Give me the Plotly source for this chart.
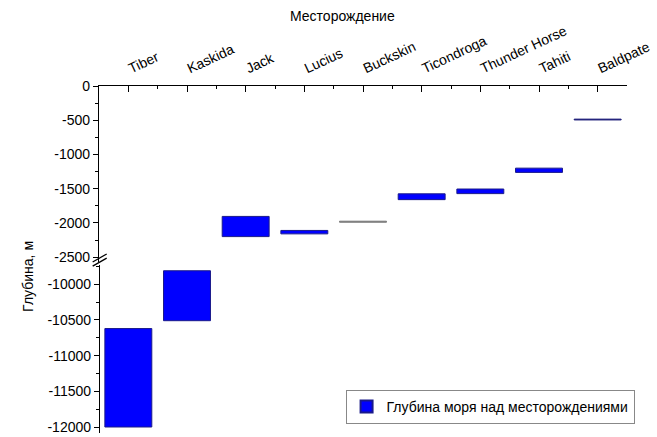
import plotly.graph_objects as go

fields = ["Tiber", "Kaskida", "Jack", "Lucius", "Buckskin", "Ticondroga",
          "Thunder Horse", "Tahiti", "Baldpate"]
depth_top = [-10620, -9810, -1905, -2110, -1975, -1575, -1505, -1200, -484]
depth_bottom = [-12000, -10510, -2200, -2160, -1990, -1660, -1572, -1262, -496]
bar_colors = ["#0000FF", "#0000FF", "#0000FF", "#0000FF", "#7a7a7a",
              "#0000FF", "#0000FF", "#0000FF", "#1c1c78"]
edge_colors = ["#1a1a8a", "#1a1a8a", "#1a1a8a", "#1a1a8a", "#7a7a7a",
               "#1a1a8a", "#1a1a8a", "#1a1a8a", "#1c1c78"]

top_ticks = [0, -500, -1000, -1500, -2000, -2500]
bottom_ticks = [-10000, -10500, -11000, -11500, -12000]

FONT = "Liberation Sans, Arial, sans-serif"
fs = 14

x_idx = list(range(len(fields)))
low = [i for i in x_idx if depth_top[i] < -5000]
high = [i for i in x_idx if depth_top[i] >= -5000]

fig = go.Figure()
fig.add_trace(go.Bar(
    x=[i for i in low],
    y=[depth_top[i] - depth_bottom[i] for i in low],
    base=[depth_bottom[i] for i in low],
    width=0.8,
    marker=dict(color=[bar_colors[i] for i in low],
                line=dict(color=[edge_colors[i] for i in low], width=1)),
    name="Глубина моря над месторождениями",
    xaxis="x", yaxis="y2", showlegend=True,
))
fig.add_trace(go.Bar(
    x=[i for i in high],
    y=[depth_top[i] - depth_bottom[i] for i in high],
    base=[depth_bottom[i] for i in high],
    width=0.8,
    marker=dict(color=[bar_colors[i] for i in high],
                line=dict(color=[edge_colors[i] for i in high], width=1)),
    name="Глубина моря над месторождениями",
    xaxis="x", yaxis="y", showlegend=False,
))

axis_common = dict(showline=True, linecolor="black", linewidth=1.3,
                   showgrid=False, zeroline=False, automargin=False,
                   tickfont=dict(family=FONT, size=fs, color="black"))

fig.update_layout(
    width=657, height=437,
    margin=dict(l=99, r=30, t=86, b=4, autoexpand=False),
    plot_bgcolor="white", paper_bgcolor="white",
    font=dict(family=FONT, size=fs, color="black"),
    barmode="overlay",
    xaxis=dict(
        **axis_common,
        anchor="y", side="top",
        range=[-0.5, 8.5],
        tickmode="array", tickvals=x_idx, ticktext=fields,
        tickangle=-25, ticklabelstandoff=5,
        ticks="inside", ticklen=6, tickwidth=1.3, tickcolor="black",
        minor=dict(tickmode="array", tickvals=[i + 0.5 for i in x_idx],
                   ticks="inside", ticklen=3, tickcolor="black", tickwidth=1.3),
        mirror=False,
    ),
    yaxis=dict(
        **axis_common,
        domain=[0.493, 1.0],
        anchor="x",
        range=[-2570, 0],
        tickmode="array", tickvals=top_ticks,
        ticktext=[str(v) for v in top_ticks],
        ticks="outside", ticklen=5, tickwidth=1.3, tickcolor="black",
        minor=dict(tickmode="array",
                   tickvals=[-250, -750, -1250, -1750, -2250],
                   ticks="outside", ticklen=3, tickcolor="black", tickwidth=1.3),
    ),
    yaxis2=dict(
        **axis_common,
        domain=[0.0, 0.484],
        anchor="free", position=0,
        range=[-12084, -9730],
        tickmode="array", tickvals=bottom_ticks,
        ticktext=[str(v) for v in bottom_ticks],
        ticks="outside", ticklen=5, tickwidth=1.3, tickcolor="black",
        minor=dict(tickmode="array",
                   tickvals=[-9750, -10250, -10750, -11250, -11750],
                   ticks="outside", ticklen=3, tickcolor="black", tickwidth=1.3),
    ),
    legend=dict(
        x=0.467, y=0.075, xanchor="left", yanchor="middle",
        bgcolor="white", bordercolor="#888888", borderwidth=1,
        font=dict(family=FONT, size=fs, color="black"),
        itemsizing="constant",
    ),
    annotations=[
        dict(text="Месторождение", xref="paper", yref="paper",
             x=0.461, y=1.2017, xanchor="center", yanchor="middle",
             showarrow=False, font=dict(family=FONT, size=fs, color="black")),
        dict(text="Глубина, м", xref="paper", yref="paper",
             x=-0.135, y=0.452, xanchor="center", yanchor="middle",
             textangle=-90, showarrow=False,
             font=dict(family=FONT, size=fs, color="black")),
    ],
    shapes=[
        dict(type="line", xref="paper", yref="paper",
             x0=-0.012, y0=0.4928, x1=0.0146, y1=0.5159,
             line=dict(color="black", width=1.3)),
        dict(type="line", xref="paper", yref="paper",
             x0=-0.012, y0=0.481, x1=0.0146, y1=0.504,
             line=dict(color="black", width=1.3)),
    ],
)

fig.write_html("out.html",
               config={"displayModeBar": False},
               post_script="document.body.style.margin='0';document.body.style.padding='0';")
